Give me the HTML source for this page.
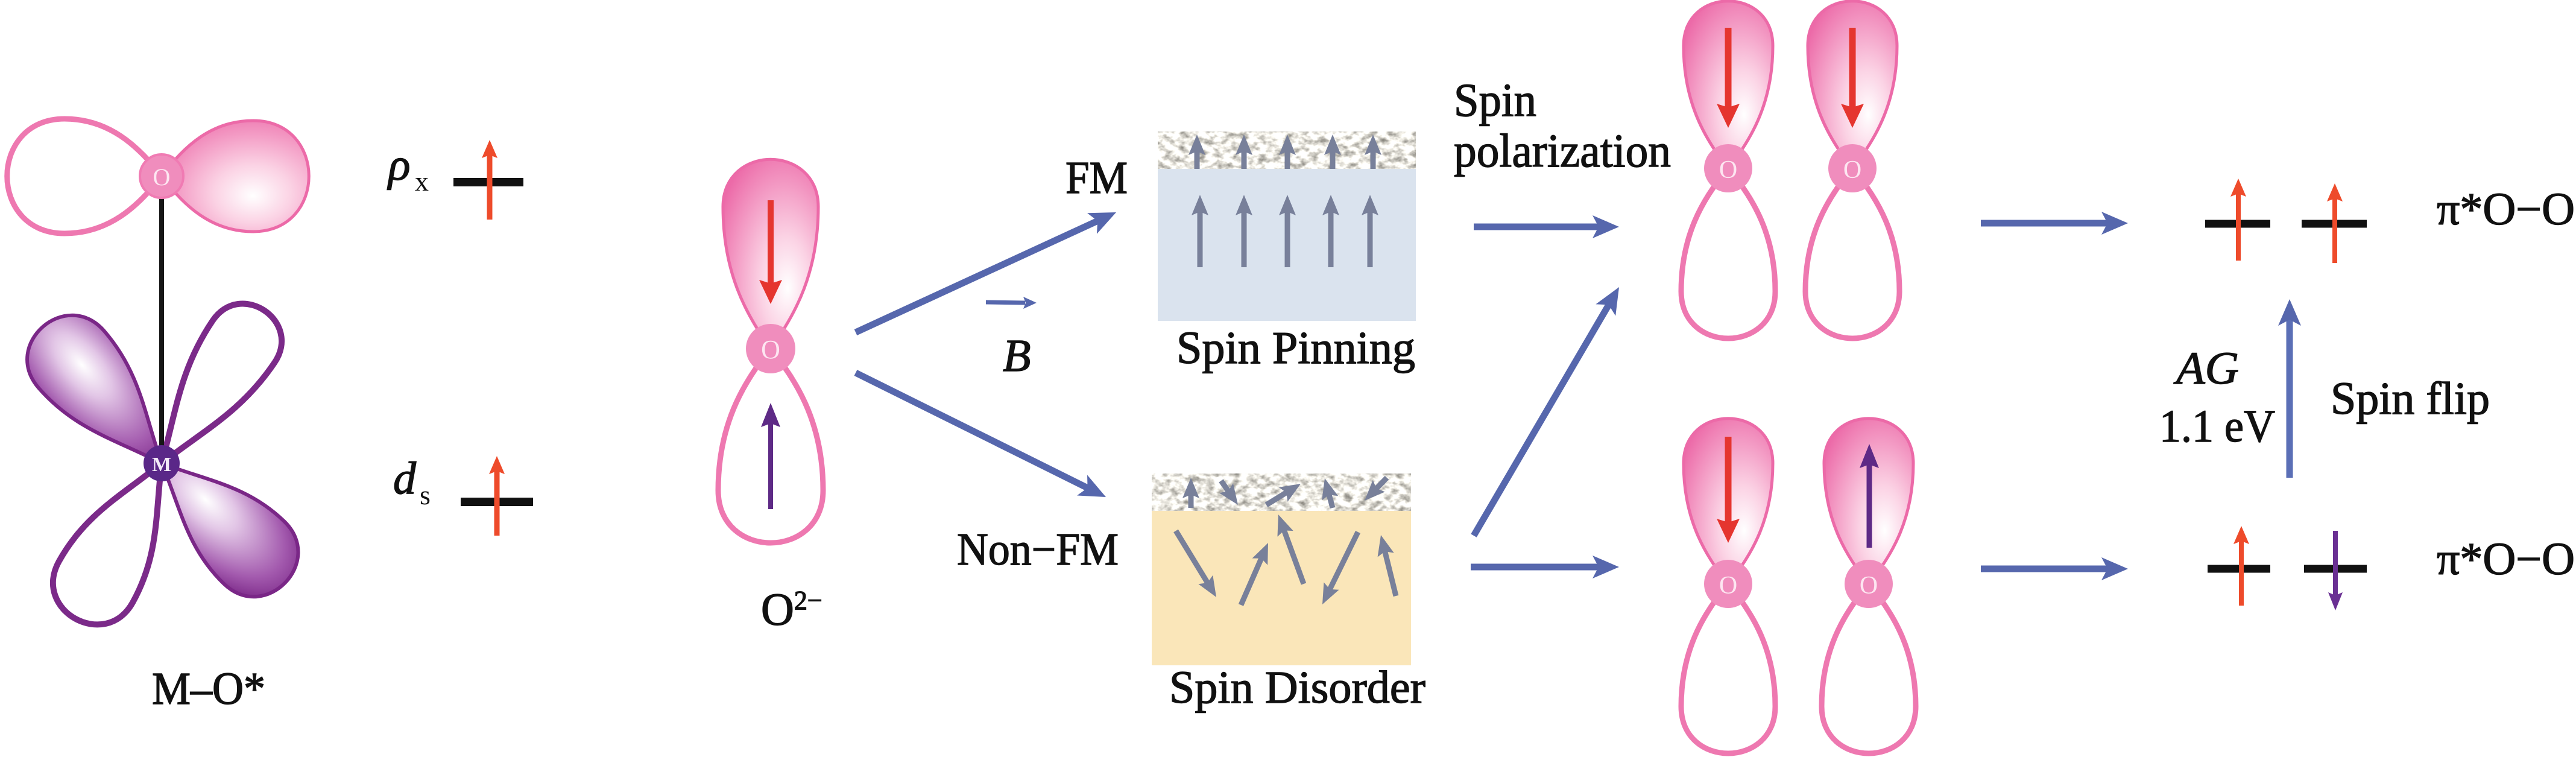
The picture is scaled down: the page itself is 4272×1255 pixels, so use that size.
<!DOCTYPE html>
<html>
<head>
<meta charset="utf-8">
<style>
html,body{margin:0;padding:0;background:#fff;}
svg{display:block;font-family:"Liberation Serif","Noto Serif CJK SC","DejaVu Serif","Times New Roman",serif;}
svg text{font-family:"Liberation Serif","Noto Serif CJK SC","DejaVu Serif","Times New Roman",serif;}
svg text.lbl{stroke:#111;stroke-width:1.4px;}
</style>
</head>
<body>
<svg width="4272" height="1255" viewBox="0 0 4272 1255" xmlns="http://www.w3.org/2000/svg">
<defs>
  <radialGradient id="gPinkV" cx="0.35" cy="0.62" r="0.75" fx="0.32" fy="0.68">
    <stop offset="0" stop-color="#ffffff"/>
    <stop offset="0.35" stop-color="#fbd2e4"/>
    <stop offset="1" stop-color="#ec6aa8"/>
  </radialGradient>
  <radialGradient id="gPinkH" cx="0.62" cy="0.62" r="0.75" fx="0.62" fy="0.68">
    <stop offset="0" stop-color="#ffffff"/>
    <stop offset="0.35" stop-color="#fbd2e4"/>
    <stop offset="1" stop-color="#ec6aa8"/>
  </radialGradient>
  <radialGradient id="gPurUL" cx="0.68" cy="0.55" r="0.7" fx="0.7" fy="0.55">
    <stop offset="0" stop-color="#ffffff"/>
    <stop offset="0.3" stop-color="#e2c6e6"/>
    <stop offset="0.75" stop-color="#a35aae"/>
    <stop offset="1" stop-color="#7a2787"/>
  </radialGradient>
  <radialGradient id="gPurLR" cx="0.35" cy="0.45" r="0.75" fx="0.33" fy="0.45">
    <stop offset="0" stop-color="#ffffff"/>
    <stop offset="0.3" stop-color="#e2c6e6"/>
    <stop offset="0.75" stop-color="#a35aae"/>
    <stop offset="1" stop-color="#7a2787"/>
  </radialGradient>
  <filter id="tex" x="0" y="0" width="1" height="1" color-interpolation-filters="sRGB">
    <feTurbulence type="fractalNoise" baseFrequency="0.07 0.1" numOctaves="3" seed="7" result="n"/>
    <feColorMatrix in="n" type="matrix" values="1.1 0 0 0 0.38  1.1 0 0 0 0.37  1.1 0 0 0 0.34  0 0 0 0 1"/>
  </filter>
  <marker id="mBlue" markerUnits="userSpaceOnUse" markerWidth="44" markerHeight="44" viewBox="0 0 44 44" refX="19" refY="22" orient="auto">
    <path d="M0,3 L44,22 L0,41 L10,22Z" fill="#5667ad"/>
  </marker>
  <marker id="mRed" markerUnits="userSpaceOnUse" markerWidth="40" markerHeight="40" viewBox="0 0 40 40" refX="15" refY="20" orient="auto">
    <path d="M0,1 L40,20 L0,39 L6,20Z" fill="#e5352f"/>
  </marker>
  <marker id="mPur" markerUnits="userSpaceOnUse" markerWidth="40" markerHeight="40" viewBox="0 0 40 40" refX="15" refY="20" orient="auto">
    <path d="M0,4 L40,20 L0,36 L6,20Z" fill="#5e2a86"/>
  </marker>
  <marker id="mRedS" markerUnits="userSpaceOnUse" markerWidth="30" markerHeight="30" viewBox="0 0 30 30" refX="12" refY="15" orient="auto">
    <path d="M0,2 L30,15 L0,28 L5,15Z" fill="#ee4b2b"/>
  </marker>
  <marker id="mPurS" markerUnits="userSpaceOnUse" markerWidth="30" markerHeight="30" viewBox="0 0 30 30" refX="12" refY="15" orient="auto">
    <path d="M0,3 L30,15 L0,27 L5,15Z" fill="#6a2f93"/>
  </marker>
  <marker id="mGrey" markerUnits="userSpaceOnUse" markerWidth="34" markerHeight="34" viewBox="0 0 34 34" refX="12" refY="17" orient="auto">
    <path d="M0,3 L34,17 L0,31 L6,17Z" fill="#78809a"/>
  </marker>
</defs>

<!-- ===== M-O* orbital ===== -->
<g transform="translate(268,292)">
  <path transform="rotate(180)" d="M0,0 C40,-52 89,-95 161,-95 C288,-95 288,95 161,95 C89,95 40,52 0,0Z" fill="none" stroke="#ee78b0" stroke-width="9"/>
  <path d="M0,0 C38,-51 84,-92 152,-92 C275,-92 275,92 152,92 C84,92 38,51 0,0Z" fill="url(#gPinkH)" stroke="#ec6aa8" stroke-width="5"/>
</g>
<line x1="268" y1="320" x2="268" y2="745" stroke="#161616" stroke-width="8"/>
<circle cx="268" cy="292" r="36" fill="#f08dbd" stroke="#f07bb3" stroke-width="4"/>
<text x="268" y="307" font-size="40" fill="#fde6f1" text-anchor="middle">O</text>

<g transform="translate(268,768)">
  <path transform="rotate(-131)" d="M0,0 C80,-32 137,-72 228,-72 C324,-72 324,72 228,72 C137,72 80,32 0,0Z" fill="url(#gPurUL)" stroke="#7a2787" stroke-width="6"/>
  <path transform="rotate(-56)" d="M0,0 C85,-28 146,-62 243,-62 C326,-62 326,62 243,62 C146,62 85,28 0,0Z" fill="none" stroke="#7b2a89" stroke-width="10"/>
  <path transform="rotate(119)" d="M0,0 C79,-32 135,-70 225,-70 C318,-70 318,70 225,70 C135,70 79,32 0,0Z" fill="none" stroke="#7b2a89" stroke-width="10"/>
  <path transform="rotate(44)" d="M0,0 C75,-32 128,-72 213,-72 C309,-72 309,72 213,72 C128,72 75,32 0,0Z" fill="url(#gPurLR)" stroke="#7a2787" stroke-width="6"/>
</g>
<line x1="268" y1="700" x2="268" y2="745" stroke="#161616" stroke-width="8"/>
<circle cx="268" cy="768" r="30" fill="#5a2788"/>
<text x="268" y="781" font-size="34" font-weight="bold" fill="#f3eaf7" text-anchor="middle">M</text>

<text class="lbl" x="252" y="1167" font-size="76" fill="#111" textLength="188" lengthAdjust="spacingAndGlyphs">M–O*</text>

<!-- rho_x and d_s levels -->
<text class="lbl" x="644" y="298" font-size="76" font-style="italic" fill="#111">ρ</text>
<text x="688" y="316" font-size="46" fill="#111">x</text>
<line x1="752" y1="302" x2="868" y2="302" stroke="#111" stroke-width="14"/>
<line x1="812" y1="364" x2="812" y2="250" stroke="#ee4b2b" stroke-width="9" marker-end="url(#mRedS)"/>

<text class="lbl" x="652" y="818" font-size="76" font-style="italic" fill="#111">d</text>
<text x="696" y="836" font-size="46" fill="#111">s</text>
<line x1="764" y1="832" x2="884" y2="832" stroke="#111" stroke-width="14"/>
<line x1="824" y1="888" x2="824" y2="774" stroke="#ee4b2b" stroke-width="9" marker-end="url(#mRedS)"/>

<!-- ===== O2- orbital ===== -->
<g transform="translate(1278,578)">
  <path transform="rotate(-90)" d="M0,0 C59,-43 129,-79 235,-79 C340,-79 340,79 235,79 C129,79 59,43 0,0Z" fill="url(#gPinkV)" stroke="#ec6aa8" stroke-width="5"/>
  <path transform="rotate(90)" d="M0,0 C59,-48 129,-87 235,-87 C351,-87 351,87 235,87 C129,87 59,48 0,0Z" fill="none" stroke="#ee78b0" stroke-width="9"/>
</g>
<circle cx="1278" cy="578" r="41" fill="#f08dbd"/>
<text x="1278" y="594" font-size="44" fill="#fde6f1" text-anchor="middle">O</text>
<line x1="1278" y1="332" x2="1278" y2="479" stroke="#e5352f" stroke-width="10" marker-end="url(#mRed)"/>
<line x1="1278" y1="844" x2="1278" y2="693" stroke="#5e2a86" stroke-width="8" marker-end="url(#mPur)"/>
<text class="lbl" x="1262" y="1036" font-size="76" fill="#111">O<tspan font-size="44" dy="-26">2−</tspan></text>

<!-- blue arrows from O2- -->
<line x1="1419" y1="551" x2="1828.3" y2="362.5" stroke="#5667ad" stroke-width="11" marker-end="url(#mBlue)"/>
<line x1="1419" y1="618" x2="1811.6" y2="812.9" stroke="#5667ad" stroke-width="11" marker-end="url(#mBlue)"/>
<line x1="1635" y1="501" x2="1700" y2="502" stroke="#5667ad" stroke-width="7"/>
<polygon points="1719,502 1697,492 1701,502 1697,512" fill="#5667ad"/>
<text class="lbl" x="1663" y="615" font-size="76" font-style="italic" fill="#111">B</text>
<text class="lbl" x="1767" y="320" font-size="76" fill="#111" textLength="103" lengthAdjust="spacingAndGlyphs">FM</text>
<text class="lbl" x="1587" y="936" font-size="76" fill="#111" textLength="268" lengthAdjust="spacingAndGlyphs">Non−FM</text>

<!-- ===== Spin Pinning box ===== -->
<rect x="1920" y="218" width="428" height="314" fill="#dae3ee"/>
<rect x="1920" y="218" width="428" height="62" fill="#d6d2cb" filter="url(#tex)"/>
<g stroke="#78809a" stroke-width="9" marker-end="url(#mGrey)">
  <line x1="1990" y1="443" x2="1990" y2="345"/>
  <line x1="2063" y1="443" x2="2063" y2="345"/>
  <line x1="2135" y1="443" x2="2135" y2="345"/>
  <line x1="2207" y1="443" x2="2207" y2="345"/>
  <line x1="2272" y1="443" x2="2272" y2="345"/>
  <line x1="1985" y1="280" x2="1985" y2="245"/>
  <line x1="2063" y1="280" x2="2063" y2="245"/>
  <line x1="2135" y1="280" x2="2135" y2="245"/>
  <line x1="2210" y1="280" x2="2210" y2="245"/>
  <line x1="2277" y1="280" x2="2277" y2="245"/>
</g>
<text class="lbl" x="1951" y="602" font-size="76" fill="#111" textLength="396" lengthAdjust="spacingAndGlyphs">Spin Pinning</text>

<!-- ===== Spin Disorder box ===== -->
<rect x="1910" y="785" width="430" height="318" fill="#fae6b9"/>
<rect x="1910" y="785" width="430" height="62" fill="#d6d2cb" filter="url(#tex)"/>
<g stroke="#78809a" stroke-width="9" marker-end="url(#mGrey)">
  <line x1="1950" y1="880" x2="2005.6" y2="971.2"/>
  <line x1="2058" y1="1003" x2="2094.2" y2="920.2"/>
  <line x1="2162" y1="968" x2="2127.5" y2="873.7"/>
  <line x1="2252" y1="882" x2="2202.7" y2="982.3"/>
  <line x1="2315" y1="988" x2="2295.3" y2="908.4"/>
  <line x1="1975" y1="842" x2="1975" y2="814"/>
  <line x1="2025" y1="797" x2="2040.4" y2="819"/>
  <line x1="2100" y1="837" x2="2138.3" y2="813.5"/>
  <line x1="2210" y1="842" x2="2202.6" y2="814.3"/>
  <line x1="2300" y1="792" x2="2278.4" y2="814.2"/>
</g>
<text class="lbl" x="1939" y="1165" font-size="76" fill="#111" textLength="425" lengthAdjust="spacingAndGlyphs">Spin Disorder</text>

<!-- Spin polarization -->
<text class="lbl" x="2411" y="192" font-size="78" fill="#111" textLength="137" lengthAdjust="spacingAndGlyphs">Spin</text>
<text class="lbl" x="2411" y="276" font-size="78" fill="#111" textLength="360" lengthAdjust="spacingAndGlyphs">polarization</text>

<line x1="2444" y1="376" x2="2660" y2="376" stroke="#5667ad" stroke-width="11" marker-end="url(#mBlue)"/>
<line x1="2444" y1="888" x2="2672.4" y2="497.6" stroke="#5667ad" stroke-width="11" marker-end="url(#mBlue)"/>
<line x1="2439" y1="940" x2="2660" y2="940" stroke="#5667ad" stroke-width="11" marker-end="url(#mBlue)"/>

<!-- ===== Top pair of orbitals ===== -->
<g transform="translate(2866,279)">
  <path transform="rotate(-90)" d="M0,0 C51,-41 112,-74 203,-74 C302,-74 302,74 203,74 C112,74 51,41 0,0Z" fill="url(#gPinkV)" stroke="#ec6aa8" stroke-width="5"/>
  <path transform="rotate(90)" d="M0,0 C51,-43 112,-78 204,-78 C308,-78 308,78 204,78 C112,78 51,43 0,0Z" fill="none" stroke="#ee78b0" stroke-width="9"/>
</g>
<circle cx="2866" cy="279" r="40" fill="#f08dbd"/>
<text x="2866" y="295" font-size="42" fill="#fde6f1" text-anchor="middle">O</text>
<line x1="2866" y1="46" x2="2866" y2="187" stroke="#e5352f" stroke-width="11" marker-end="url(#mRed)"/>

<g transform="translate(3072,279)">
  <path transform="rotate(-90)" d="M0,0 C51,-41 112,-74 203,-74 C302,-74 302,74 203,74 C112,74 51,41 0,0Z" fill="url(#gPinkV)" stroke="#ec6aa8" stroke-width="5"/>
  <path transform="rotate(90)" d="M0,0 C51,-43 112,-78 204,-78 C308,-78 308,78 204,78 C112,78 51,43 0,0Z" fill="none" stroke="#ee78b0" stroke-width="9"/>
</g>
<circle cx="3072" cy="279" r="40" fill="#f08dbd"/>
<text x="3072" y="295" font-size="42" fill="#fde6f1" text-anchor="middle">O</text>
<line x1="3072" y1="46" x2="3072" y2="187" stroke="#e5352f" stroke-width="11" marker-end="url(#mRed)"/>

<!-- ===== Bottom pair of orbitals ===== -->
<g transform="translate(2866,968)">
  <path transform="rotate(-90)" d="M0,0 C50,-41 110,-74 200,-74 C299,-74 299,74 200,74 C110,74 50,41 0,0Z" fill="url(#gPinkV)" stroke="#ec6aa8" stroke-width="5"/>
  <path transform="rotate(90)" d="M0,0 C51,-43 112,-78 203,-78 C307,-78 307,78 203,78 C112,78 51,43 0,0Z" fill="none" stroke="#ee78b0" stroke-width="9"/>
</g>
<circle cx="2866" cy="968" r="40" fill="#f08dbd"/>
<text x="2866" y="984" font-size="42" fill="#fde6f1" text-anchor="middle">O</text>
<line x1="2866" y1="724" x2="2866" y2="875" stroke="#e5352f" stroke-width="11" marker-end="url(#mRed)"/>

<g transform="translate(3099,968)">
  <path transform="rotate(-90)" d="M0,0 C50,-41 110,-74 200,-74 C299,-74 299,74 200,74 C110,74 50,41 0,0Z" fill="url(#gPinkV)" stroke="#ec6aa8" stroke-width="5"/>
  <path transform="rotate(90)" d="M0,0 C51,-43 112,-78 203,-78 C307,-78 307,78 203,78 C112,78 51,43 0,0Z" fill="none" stroke="#ee78b0" stroke-width="9"/>
</g>
<circle cx="3099" cy="968" r="40" fill="#f08dbd"/>
<text x="3099" y="984" font-size="42" fill="#fde6f1" text-anchor="middle">O</text>
<line x1="3100" y1="908" x2="3100" y2="761" stroke="#5e2a86" stroke-width="9" marker-end="url(#mPur)"/>

<line x1="3285" y1="370" x2="3504" y2="370" stroke="#5667ad" stroke-width="11" marker-end="url(#mBlue)"/>
<line x1="3285" y1="943" x2="3504" y2="943" stroke="#5667ad" stroke-width="11" marker-end="url(#mBlue)"/>

<!-- energy levels top -->
<line x1="3657" y1="371" x2="3765" y2="371" stroke="#111" stroke-width="13"/>
<line x1="3817" y1="371" x2="3925" y2="371" stroke="#111" stroke-width="13"/>
<line x1="3712" y1="432" x2="3712" y2="314" stroke="#ee4b2b" stroke-width="8" marker-end="url(#mRedS)"/>
<line x1="3872" y1="436" x2="3872" y2="322" stroke="#ee4b2b" stroke-width="8" marker-end="url(#mRedS)"/>

<!-- energy levels bottom -->
<line x1="3661" y1="943" x2="3765" y2="943" stroke="#111" stroke-width="13"/>
<line x1="3821" y1="943" x2="3925" y2="943" stroke="#111" stroke-width="13"/>
<line x1="3717" y1="1004" x2="3717" y2="890" stroke="#ee4b2b" stroke-width="8" marker-end="url(#mRedS)"/>
<line x1="3873" y1="880" x2="3873" y2="994" stroke="#6a2f93" stroke-width="8" marker-end="url(#mPurS)"/>

<!-- spin flip arrow -->
<line x1="3797" y1="792" x2="3797" y2="521" stroke="#5b6fb6" stroke-width="11" marker-end="url(#mBlue)"/>
<text class="lbl" x="3609" y="636" font-size="76" font-style="italic" fill="#111" textLength="104" lengthAdjust="spacingAndGlyphs">AG</text>
<text class="lbl" x="3581" y="732" font-size="76" fill="#111" textLength="192" lengthAdjust="spacingAndGlyphs">1.1 eV</text>
<text class="lbl" x="3865" y="686" font-size="76" fill="#111" textLength="264" lengthAdjust="spacingAndGlyphs">Spin flip</text>

<text class="lbl" x="4041" y="372" font-size="76" fill="#111">π*O−O</text>
<text class="lbl" x="4041" y="952" font-size="76" fill="#111">π*O−O</text>
</svg>
</body>
</html>
